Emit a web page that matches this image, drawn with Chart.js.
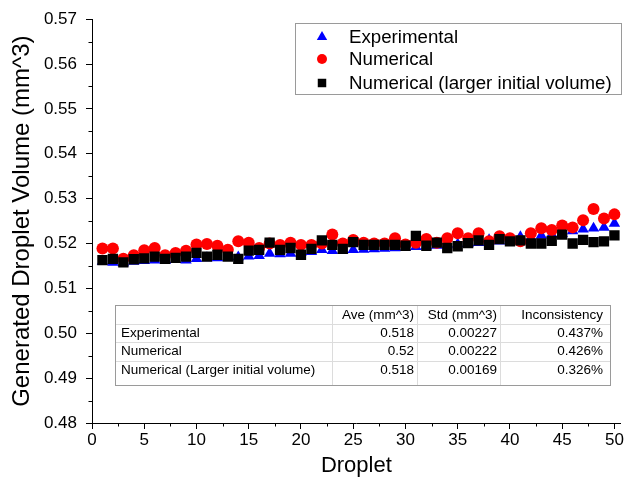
<!DOCTYPE html>
<html><head><meta charset="utf-8">
<script src="https://cdn.jsdelivr.net/npm/chart.js@4"></script>
<style>html,body{margin:0;padding:0;background:#fff}#wrap{position:relative;width:628px;height:480px}</style>
</head><body><div id="wrap"><canvas id="c" width="628" height="480"></canvas></div>
<script>
const droplets = Array.from({length:50},(_, i)=>i+1);
const experimental = [0.5160,0.5158,0.5157,0.5160,0.5162,0.5163,0.5162,0.5164,0.5163,0.5166,
0.5168,0.5168,0.5169,0.5170,0.5172,0.5173,0.5178,0.5177,0.5178,0.5180,
0.5182,0.5186,0.5184,0.5185,0.5186,0.5187,0.5188,0.5189,0.5190,0.5191,
0.5193,0.5194,0.5196,0.5197,0.5199,0.5200,0.5202,0.5208,0.5205,0.5210,
0.5215,0.5212,0.5218,0.5220,0.5222,0.5228,0.5232,0.5234,0.5236,0.5245];
const numerical = [0.5189,0.5189,0.5166,0.5174,0.5185,0.5190,0.5174,0.5179,0.5184,0.5198,
0.5199,0.5195,0.5186,0.5205,0.5202,0.5190,0.5200,0.5197,0.5202,0.5197,
0.5197,0.5200,0.5220,0.5200,0.5208,0.5202,0.5200,0.5200,0.5212,0.5198,
0.5202,0.5210,0.5202,0.5212,0.5223,0.5212,0.5223,0.5205,0.5216,0.5212,
0.5205,0.5223,0.5234,0.5230,0.5240,0.5236,0.5252,0.5277,0.5256,0.5265];
const numericalLarger = [0.5163,0.5166,0.5158,0.5165,0.5167,0.5171,0.5166,0.5168,0.5171,0.5179,
0.5171,0.5175,0.5171,0.5166,0.5184,0.5186,0.5202,0.5186,0.5190,0.5175,
0.5188,0.5207,0.5197,0.5188,0.5203,0.5197,0.5197,0.5197,0.5197,0.5195,
0.5217,0.5195,0.5202,0.5190,0.5194,0.5201,0.5207,0.5197,0.5210,0.5205,
0.5207,0.5200,0.5200,0.5206,0.5220,0.5200,0.5208,0.5203,0.5205,0.5218];
const seriesNames = ['Experimental','Numerical','Numerical (larger initial volume)'];
const xTicks = [0,5,10,15,20,25,30,35,40,45,50];
const yTicks = [0.48,0.49,0.50,0.51,0.52,0.53,0.54,0.55,0.56,0.57];
const tableHeader = ['', 'Ave (mm^3)', 'Std (mm^3)', 'Inconsistency'];
const tableRows = [
  ['Experimental','0.518','0.00227','0.437%'],
  ['Numerical','0.52','0.00222','0.426%'],
  ['Numerical (Larger initial volume)','0.518','0.00169','0.326%']
];

const FONT = '"Liberation Sans", Arial, sans-serif';
const toPts = arr => arr.map((v,i)=>({x:droplets[i], y:v}));

const extras = {
  id:'extras',
  afterDraw(chart){
    const ctx = chart.ctx, xs = chart.scales.x, ys = chart.scales.y;
    ctx.save();
    ctx.strokeStyle = '#000'; ctx.lineWidth = 1;
    ctx.beginPath();
    for (let i=0;i<xTicks.length-1;i++){
      const px = Math.round(xs.getPixelForValue((xTicks[i]+xTicks[i+1])/2))+0.5;
      ctx.moveTo(px, ys.bottom); ctx.lineTo(px, ys.bottom+3.5);
    }
    for (let i=0;i<yTicks.length-1;i++){
      const py = Math.round(ys.getPixelForValue((yTicks[i]+yTicks[i+1])/2))+0.5;
      ctx.moveTo(xs.left, py); ctx.lineTo(xs.left-3.5, py);
    }
    ctx.stroke();
    // legend
    ctx.fillStyle='#fff';
    ctx.fillRect(295,23,326,71);
    ctx.strokeStyle='#9a9a9a';
    ctx.strokeRect(295.5,23.5,326,71);
    const styles=[['triangle','#0000ff',6],['circle','#ff0000',5],['rect','#000',6]];
    const ly=[37,59,83];
    ctx.font = '18.7px '+FONT; ctx.textBaseline='middle'; ctx.textAlign='left';
    for (let i=0;i<3;i++){
      ctx.fillStyle=styles[i][1]; ctx.strokeStyle=styles[i][1];
      Chart.helpers.drawPoint(ctx,{pointStyle:styles[i][0],radius:styles[i][2],rotation:0,borderWidth:0},322,ly[i]);
      ctx.fillStyle='#000';
      ctx.fillText(seriesNames[i],349,ly[i]+1);
    }
    // table
    const L=115,R=610,T=305,B=385;
    const colX=[L,332,417,500,R];
    const rowY=[T,324,342,361,B];
    ctx.fillStyle='#fff'; ctx.fillRect(L,T,R-L,B-T);
    ctx.strokeStyle='#dcdcdc'; ctx.beginPath();
    for (let i=1;i<4;i++){ctx.moveTo(colX[i]+0.5,T);ctx.lineTo(colX[i]+0.5,B);}
    for (let i=1;i<4;i++){ctx.moveTo(L,rowY[i]+0.5);ctx.lineTo(R,rowY[i]+0.5);}
    ctx.stroke();
    ctx.strokeStyle='#9a9a9a'; ctx.strokeRect(L+0.5,T+0.5,R-L,B-T);
    ctx.font='13.5px '+FONT; ctx.fillStyle='#000';
    const centers=[315,333,351,370];
    const rightX=[0,414,497,603];
    const all=[tableHeader,...tableRows];
    all.forEach((row,r)=>{
      row.forEach((txt,c)=>{
        if(!txt) return;
        if(c===0){ctx.textAlign='left';ctx.fillText(txt,121,centers[r]);}
        else {ctx.textAlign='right';ctx.fillText(txt,rightX[c],centers[r]);}
      });
    });
    ctx.restore();
  }
};

new Chart(document.getElementById('c'),{
  type:'scatter',
  data:{datasets:[
    {label:seriesNames[0],data:toPts(experimental),pointStyle:'triangle',pointRadius:6.6,pointHoverRadius:6.6,backgroundColor:'#0000ff',borderColor:'#0000ff',borderWidth:0,order:2},
    {label:seriesNames[1],data:toPts(numerical),pointStyle:'circle',pointRadius:6,pointHoverRadius:6,backgroundColor:'#ff0000',borderColor:'#ff0000',borderWidth:0,order:1},
    {label:seriesNames[2],data:toPts(numericalLarger),pointStyle:'rect',pointRadius:7.3,pointHoverRadius:7.3,backgroundColor:'#000000',borderColor:'#000000',borderWidth:0,order:0}
  ]},
  options:{
    responsive:false,animation:false,
    layout:{padding:{left:0,top:16,right:1,bottom:0}},
    plugins:{legend:{display:false},tooltip:{enabled:false}},
    scales:{
      x:{type:'linear',min:0,max:50.6,
        afterBuildTicks:s=>{s.ticks=xTicks.map(v=>({value:v}));},
        afterFit:s=>{s.height=57;},
        ticks:{font:{size:17,family:FONT},color:'#000',padding:1,maxRotation:0,autoSkip:false},
        grid:{drawOnChartArea:false,drawTicks:true,tickLength:6,color:'#000',lineWidth:1},
        border:{display:true,color:'#000',width:1},
        title:{display:true,text:'Droplet',font:{size:22,family:FONT},color:'#000',padding:{top:0,bottom:1}}
      },
      y:{type:'linear',min:0.48,max:0.57,
        afterBuildTicks:s=>{s.ticks=yTicks.map(v=>({value:v}));},
        afterFit:s=>{s.width=92;},
        ticks:{font:{size:17,family:FONT},color:'#000',padding:9,autoSkip:false,callback:v=>v.toFixed(2)},
        grid:{drawOnChartArea:false,drawTicks:true,tickLength:6,color:'#000',lineWidth:1},
        border:{display:true,color:'#000',width:1},
        title:{display:true,text:'Generated Droplet Volume (mm^3)',font:{size:24,family:FONT},color:'#000',padding:{top:8,bottom:0}}
      }
    }
  },
  plugins:[extras]
});
</script></body></html>
